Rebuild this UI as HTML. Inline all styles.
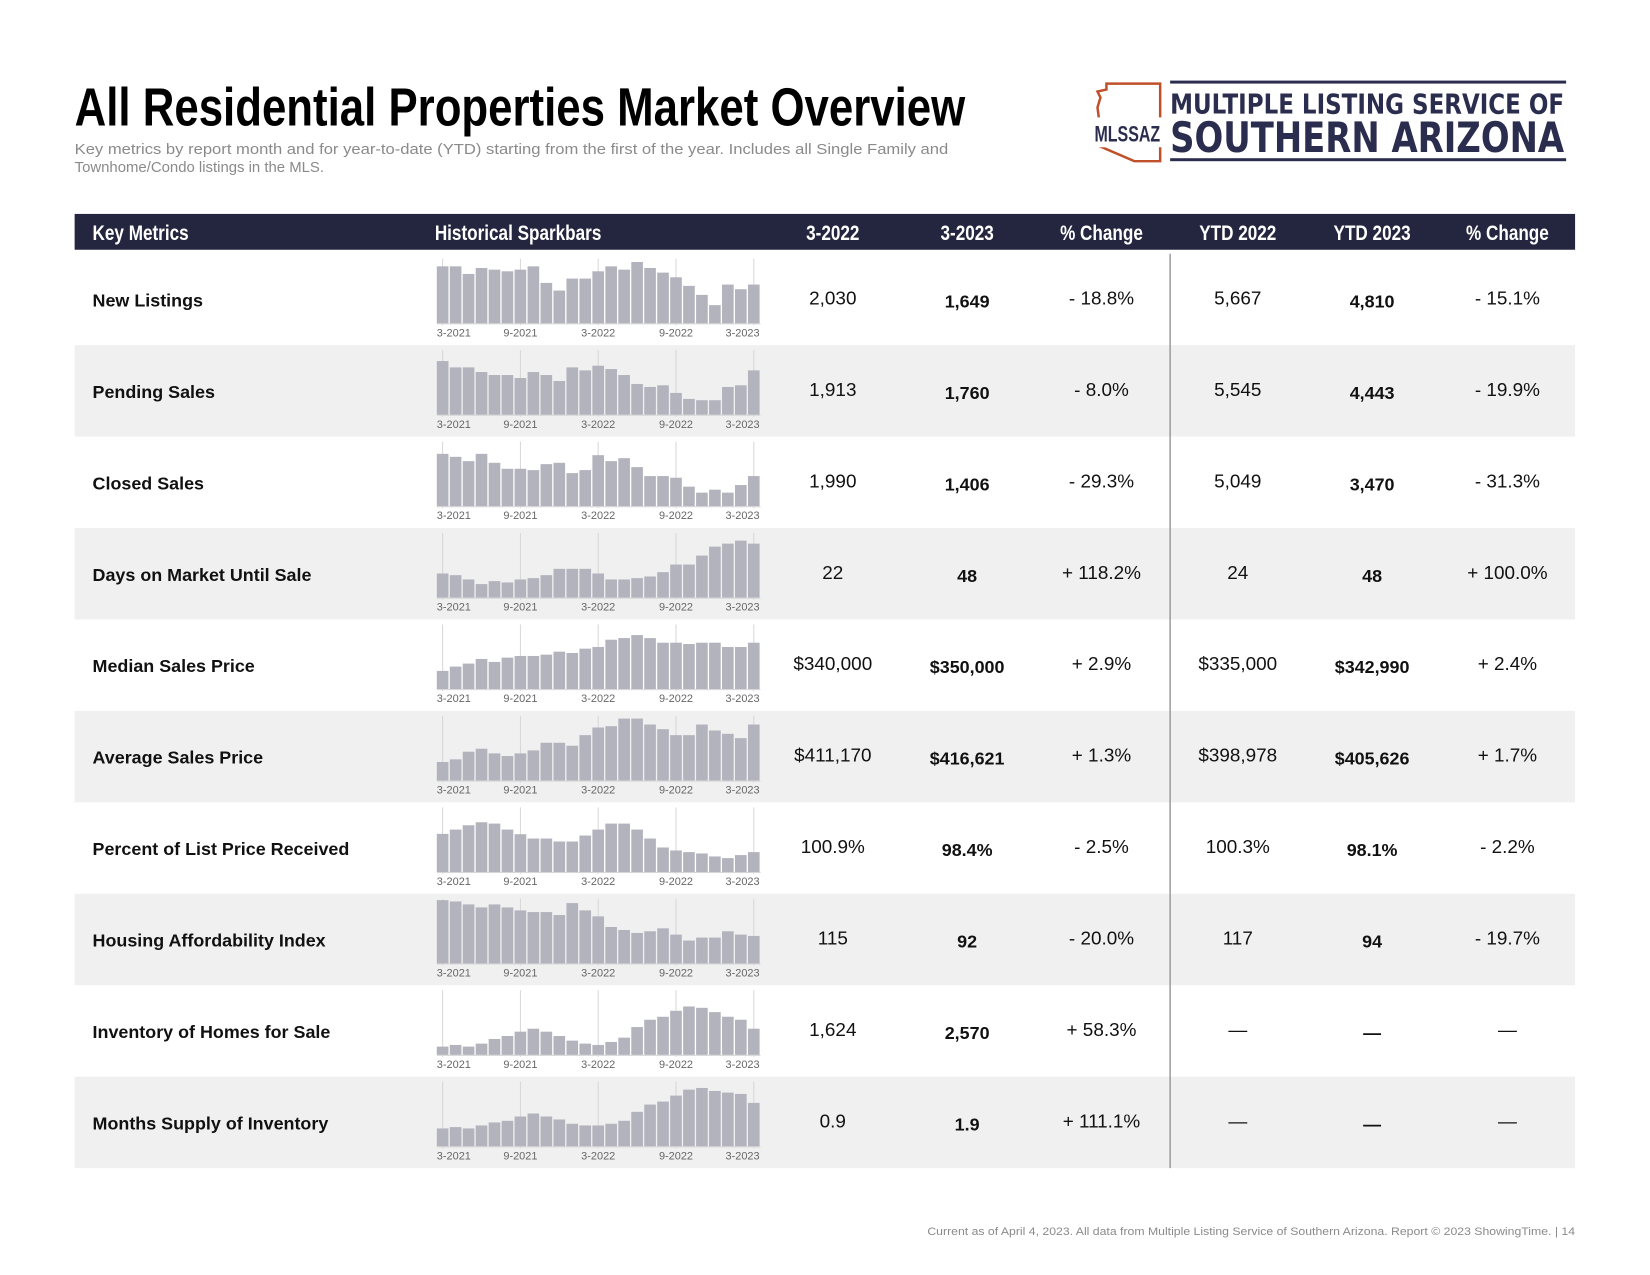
<!DOCTYPE html>
<html><head><meta charset="utf-8"><style>
html,body{margin:0;padding:0;background:#fff;}
svg{display:block;font-family:"Liberation Sans",sans-serif;}
</style></head><body>
<svg id="page" width="1650" height="1275" viewBox="0 0 1650 1275" xmlns="http://www.w3.org/2000/svg">
<g transform="scale(0.995)">
<text x="75" y="126" font-size="54" font-weight="bold" fill="#000" textLength="895" lengthAdjust="spacingAndGlyphs">All Residential Properties Market Overview</text>
<text x="75" y="155" font-size="15" fill="#8a8a8a" textLength="878" lengthAdjust="spacingAndGlyphs">Key metrics by report month and for year-to-date (YTD) starting from the first of the year. Includes all Single Family and</text>
<text x="75" y="173" font-size="15" fill="#8a8a8a">Townhome/Condo listings in the MLS.</text>
<g>
<path d="M1112 84 L1166 84 L1166 162 L1140 162 L1103 146 L1103 136 L1106 131 L1103 108 L1106 98 L1103 92 L1112 90 Z" fill="none" stroke="#c0502a" stroke-width="2.5"/>
<rect x="1098" y="118" width="70" height="30" fill="#fff"/>
<text x="1133" y="142" font-size="22" font-weight="bold" fill="#2b2d4e" text-anchor="middle" textLength="66" lengthAdjust="spacingAndGlyphs">MLSSAZ</text>
<rect x="1176" y="81" width="398" height="3" fill="#2b2d4e"/>
<rect x="1176" y="159" width="398" height="3" fill="#2b2d4e"/>
<text x="1176" y="114" font-size="28" font-weight="bold" fill="#2b2d4e" font-family="DejaVu Sans, sans-serif" textLength="396" lengthAdjust="spacingAndGlyphs">MULTIPLE LISTING SERVICE OF</text>
<text x="1176" y="153" font-size="42" font-weight="bold" fill="#2b2d4e" font-family="DejaVu Sans, sans-serif" textLength="396" lengthAdjust="spacingAndGlyphs">SOUTHERN ARIZONA</text>
</g>
<rect x="75" y="215" width="1508" height="36" fill="#24263f"/>
<g id="hdr" font-size="21" font-weight="bold" fill="#fff"></g>
<g id="rows"></g>
<line x1="1176" y1="255" x2="1176" y2="1174" stroke="#9a9a9a" stroke-width="1.5"/>
<text x="1583" y="1241" font-size="11" fill="#8a8a8a" text-anchor="end" textLength="651" lengthAdjust="spacingAndGlyphs">Current as of April 4, 2023. All data from Multiple Listing Service of Southern Arizona. Report © 2023 ShowingTime.  |  14</text>
</g>
</svg>
<script>
const metricNames = ["New Listings","Pending Sales","Closed Sales","Days on Market Until Sale","Median Sales Price","Average Sales Price","Percent of List Price Received","Housing Affordability Index","Inventory of Homes for Sale","Months Supply of Inventory"];
const val2022 = ["2,030","1,913","1,990","22","$340,000","$411,170","100.9%","115","1,624","0.9"];
const val2023 = ["1,649","1,760","1,406","48","$350,000","$416,621","98.4%","92","2,570","1.9"];
const chgMonth = ["- 18.8%","- 8.0%","- 29.3%","+ 118.2%","+ 2.9%","+ 1.3%","- 2.5%","- 20.0%","+ 58.3%","+ 111.1%"];
const ytd2022 = ["5,667","5,545","5,049","24","$335,000","$398,978","100.3%","117","—","—"];
const ytd2023 = ["4,810","4,443","3,470","48","$342,990","$405,626","98.1%","94","—","—"];
const chgYtd = ["- 15.1%","- 19.9%","- 31.3%","+ 100.0%","+ 2.4%","+ 1.7%","- 2.2%","- 19.7%","—","—"];
const headers = ["Key Metrics","Historical Sparkbars","3-2022","3-2023","% Change","YTD 2022","YTD 2023","% Change"];
const tickLabels = ["3-2021","9-2021","3-2022","9-2022","3-2023"];
const tickIndex = [0,6,12,18,24];
const sparkNewListings = [172,172,149,167,162,157,162,172,122,99,135,135,157,172,162,185,167,153,139,113,86,55,117,103,117];
const sparkPending = [162,143,143,129,120,120,111,129,120,102,143,134,148,138,120,93,84,89,66,48,44,44,84,89,134];
const sparkClosed = [158,149,136,158,131,113,113,109,127,131,100,109,154,136,145,118,91,91,86,59,41,50,41,64,91];
const sparkDom = [73,68,55,41,50,46,55,59,68,87,87,87,73,55,55,59,64,77,100,100,127,154,163,172,163];
const sparkMedian = [55,68,77,91,82,95,100,100,104,113,109,122,127,149,154,163,154,140,140,136,140,140,127,127,140];
const sparkAvg = [56,64,87,96,82,74,82,91,114,114,105,137,160,164,187,187,169,155,137,137,169,151,141,128,169];
const sparkPct = [115,128,141,150,146,128,114,101,101,92,92,110,128,146,146,128,101,74,65,60,56,47,42,51,60];
const sparkHai = [191,187,178,169,178,169,160,155,155,146,182,160,142,110,101,92,97,106,87,69,78,78,97,87,83];
const sparkInv = [25,30,25,34,48,57,70,79,70,57,43,34,30,39,52,84,106,115,133,146,142,129,115,106,79];
const sparkMsi = [54,58,54,63,72,77,90,99,90,81,68,63,63,68,77,104,126,135,153,171,176,167,162,158,131];
const sparkSeries = [sparkNewListings,sparkPending,sparkClosed,sparkDom,sparkMedian,sparkAvg,sparkPct,sparkHai,sparkInv,sparkMsi];

const NS="http://www.w3.org/2000/svg";
function mk(tag,attrs,parent){const e=document.createElementNS(NS,tag);for(const k in attrs)e.setAttribute(k,attrs[k]);parent.appendChild(e);return e;}
const colX=[93,437,837,972,1107,1244,1379,1515];
const hdr=document.getElementById('hdr');
headers.forEach((h,i)=>{
  const t=mk('text',{x:colX[i],y:241,'text-anchor':i<2?'start':'middle',transform:`translate(${colX[i]},0) scale(0.82,1) translate(${-colX[i]},0)`},hdr);
  
  
  t.textContent=h;
});
const rows=document.getElementById('rows');
const rowTop0=255, rowH=91.9;
const barX0=439, pitch=13.03, barW=11.7, yScale=1/3;
function xBar(i){return barX0+i*pitch;}
function hBar(v){return v*yScale;}
metricNames.forEach((name,r)=>{
  const top=rowTop0+r*rowH;
  const g=mk('g',{},rows);
  
  
  if(r%2===1) mk('rect',{x:75,y:top,width:1508,height:rowH,fill:'#f0f0f0'},g);
  const base=top+70;
  tickIndex.forEach(ti=>{
    const gl=mk('line',{x1:xBar(ti)+barW/2,x2:xBar(ti)+barW/2,y1:top+5,y2:base+2,stroke:'#d6d6d6','stroke-width':1},g);
    
    
  });
  sparkSeries[r].forEach((v,i)=>{
    const b=mk('rect',{x:xBar(i),y:base-hBar(v),width:barW,height:hBar(v),fill:'#b3b3bd'},g);
    
    
  });
  mk('line',{x1:barX0,x2:xBar(24)+barW+1,y1:base+0.5,y2:base+0.5,stroke:'#d6d6d6','stroke-width':1},g);
  tickLabels.forEach((lab,k)=>{
    const i=tickIndex[k];
    let x=xBar(i)+barW/2, anc='middle';
    if(k===0){x=barX0;anc='start';}
    if(k===tickLabels.length-1){x=xBar(24)+barW;anc='end';}
    const t=mk('text',{x:x,y:base+13,'font-size':11,fill:'#666','text-anchor':anc},g);
    
    
    t.textContent=lab;
  });
  const lbl=mk('text',{x:93,y:top+53,'font-size':18,'font-weight':'bold',fill:'#111'},g);
  
  
  lbl.textContent=name;
  const cells=[val2022[r],val2023[r],chgMonth[r],ytd2022[r],ytd2023[r],chgYtd[r]];
  cells.forEach((c,j)=>{
    const bold=(j===1||j===4);
    const t=mk('text',{x:colX[j+2],y:top+(bold?54:51),'font-size':bold?18:19,'font-weight':bold?'bold':'normal',fill:'#111','text-anchor':'middle'},g);
    
    
    t.textContent=c;
  });
});
</script>
</body></html>
